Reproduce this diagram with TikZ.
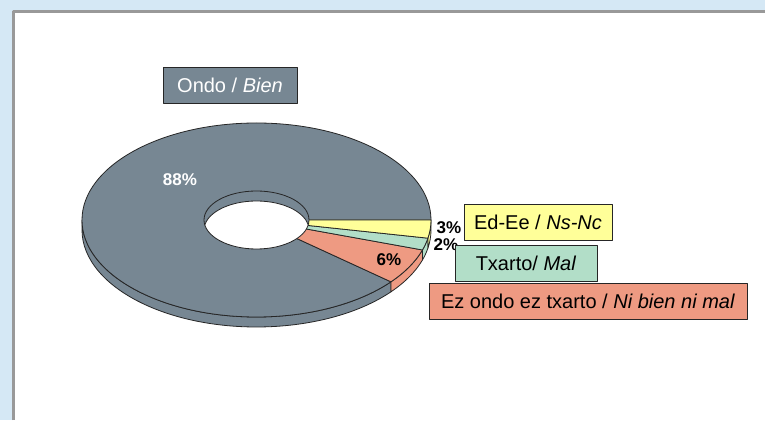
\documentclass[tikz,border=0pt]{standalone}
\usepackage{fontspec}
\setmainfont{Liberation Sans}
\definecolor{bgblue}{RGB}{213,232,245}
\definecolor{frame}{RGB}{153,153,153}
\definecolor{ondo}{RGB}{119,135,147}
\definecolor{edee}{RGB}{255,255,153}
\definecolor{txarto}{RGB}{178,222,200}
\definecolor{ezondo}{RGB}{238,154,130}
\begin{document}
\begin{tikzpicture}[x=1pt,y=1pt,line join=round,
  edge/.style={draw=black!85,line width=.8pt},
  key/.style={draw=black!85,line width=.8pt,minimum height=36pt,inner sep=0pt,font=\fontsize{20}{24}\selectfont},
  pct/.style={font=\bfseries\fontsize{17}{20}\selectfont}]
\useasboundingbox(0,0)rectangle(765,420);
\fill[bgblue](0,0)rectangle(765,420);
\fill[white](15,0)rectangle(765,407);
\draw[frame,line width=3pt](13.5,0)--(13.5,408.5)--(765,408.5);
\coordinate(c)at(256.5,200);
\begin{scope}[shift={(c)}]
% side of the ring
\foreach \s/\e/\col in {-180/-39.6/ondo,-39.6/-18/ezondo,-18/-10.8/txarto,-10.8/0/edee}
  \filldraw[fill=\col,edge](\s:174.5 and 97)arc[start angle=\s,end angle=\e,x radius=174.5,y radius=97]--++(0,-10)arc[start angle=\e,end angle=\s,x radius=174.5,y radius=97]--cycle;
% top face
\foreach \s/\e/\col in {0/320.4/ondo,-39.6/-18/ezondo,-18/-10.8/txarto,-10.8/0/edee}
  \filldraw[fill=\col,edge](0,0)--(\s:174.5 and 97)arc[start angle=\s,end angle=\e,x radius=174.5,y radius=97]--cycle;
% hole
\fill[ondo](0,0)ellipse[x radius=52.5,y radius=29];
\begin{scope}
\clip(0,0)ellipse[x radius=52.5,y radius=29];
\filldraw[fill=white,edge](0,-10)ellipse[x radius=52.5,y radius=29];
\end{scope}
\draw[edge](0,0)ellipse[x radius=52.5,y radius=29];
\end{scope}
\node[pct,text=white](p88)at(180,240){88\%};
\node[pct](p6)at(389,160){6\%};
\node[pct](p3)at(449,192){3\%};
\node[pct](p2)at(446,175){2\%};
\node[key,fill=ondo,text=white,minimum width=134pt](k-ondo)at(230,335){Ondo / \textit{Bien}};
\node[key,fill=edee,minimum width=148pt](k-edee)at(538,197.5){Ed-Ee / \textit{Ns-Nc}};
\node[key,fill=txarto,minimum width=142pt](k-txarto)at(526,157){Txarto/ \textit{Mal}};
\node[key,fill=ezondo,minimum width=318pt](k-ezondo)at(588,119){Ez ondo ez txarto / \textit{Ni bien ni mal}};
\end{tikzpicture}
\end{document}
